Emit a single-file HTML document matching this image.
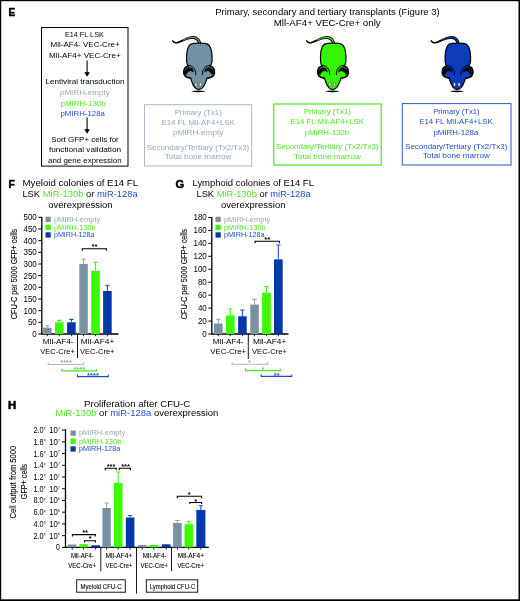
<!DOCTYPE html>
<html><head><meta charset="utf-8"><title>Figure</title>
<style>
html,body{margin:0;padding:0;background:#fff}
svg{display:block}
svg text{font-family:"Liberation Sans",sans-serif}
svg text.c{stroke:#000;stroke-width:.1px}
svg text.p{stroke:#000;stroke-width:.55px;stroke-linejoin:round}
</style></head><body>
<svg width="520" height="601" viewBox="0 0 520 601">
<rect x="0" y="0" width="520" height="601" fill="#000"/><rect x="1.2" y="1.2" width="517.3" height="598.1" fill="#fff"/>
<text x="8.5" y="16.1" font-size="11.5" textLength="6.7" lengthAdjust="spacingAndGlyphs" font-weight="bold" class="p">E</text>
<text x="8.5" y="188.2" font-size="11.5" textLength="6.3" lengthAdjust="spacingAndGlyphs" font-weight="bold" class="p">F</text>
<text x="175.6" y="188.2" font-size="11.5" textLength="8.7" lengthAdjust="spacingAndGlyphs" font-weight="bold" class="p">G</text>
<text x="8.1" y="409.2" font-size="11.5" textLength="8.25" lengthAdjust="spacingAndGlyphs" font-weight="bold" class="p">H</text>
<rect x="41.5" y="27.5" width="86.5" height="138.6" fill="none" stroke="#000" stroke-width="1"/>
<text x="64.9" y="36.5" font-size="7.1" textLength="39.0" lengthAdjust="spacingAndGlyphs">E14 FL LSK</text>
<text x="50.5" y="46.9" font-size="7.1" textLength="69.2" lengthAdjust="spacingAndGlyphs">Mll-AF4- VEC-Cre+</text>
<text x="48.900000000000006" y="57.5" font-size="7.1" textLength="71.8" lengthAdjust="spacingAndGlyphs">Mll-AF4+ VEC-Cre+</text>
<text x="45.5" y="83.8" font-size="7.1" textLength="79.0" lengthAdjust="spacingAndGlyphs">Lentiviral transduction</text>
<text x="59.900000000000006" y="94.8" font-size="7.1" textLength="49.8" lengthAdjust="spacingAndGlyphs" fill="#93a8b8">pMIRH-empty</text>
<text x="60.5" y="105.6" font-size="7.1" textLength="45.2" lengthAdjust="spacingAndGlyphs" fill="#4fe620">pMIRH-130b</text>
<text x="60.5" y="115.6" font-size="7.1" textLength="44.4" lengthAdjust="spacingAndGlyphs" fill="#1f4fc4">pMIRH-128a</text>
<text x="51.2" y="141.7" font-size="7.1" textLength="67.6" lengthAdjust="spacingAndGlyphs">Sort GFP+ cells for</text>
<text x="48.900000000000006" y="151.6" font-size="7.1" textLength="72.2" lengthAdjust="spacingAndGlyphs">functional validation</text>
<text x="48.0" y="162.5" font-size="7.1" textLength="73.6" lengthAdjust="spacingAndGlyphs">and gene expression</text>
<path d="M87.1 60.4V73.7" stroke="#000" stroke-width="1.1" fill="none"/>
<path d="M84.3 72.2L87.1 76.7L89.89999999999999 72.2Z" fill="#000"/>
<path d="M87.1 117.5V130.8" stroke="#000" stroke-width="1.1" fill="none"/>
<path d="M84.3 129.3L87.1 133.8L89.89999999999999 129.3Z" fill="#000"/>
<text x="215.2" y="14.6" font-size="8.6" textLength="224.5" lengthAdjust="spacingAndGlyphs">Primary, secondary and tertiary transplants (Figure 3)</text>
<text x="273.7" y="25.6" font-size="8.6" textLength="107.0" lengthAdjust="spacingAndGlyphs">Mll-AF4+ VEC-Cre+ only</text>
<g transform="translate(0,0)">
<path d="M171.79 40.70L171.93 40.91L172.14 41.21L172.40 41.59L172.71 41.99L173.07 42.39L173.49 42.73L173.92 42.98L174.36 43.19L174.83 43.36L175.34 43.50L175.87 43.58L176.43 43.60L177.00 43.55L177.57 43.43L178.14 43.28L178.70 43.09L179.25 42.89L179.81 42.69L180.40 42.47L180.99 42.21L181.58 41.95L182.17 41.68L182.77 41.42L183.38 41.17L184.02 40.92L184.69 40.67L185.37 40.43L186.04 40.19L186.71 39.98L187.36 39.79L188.02 39.62L188.68 39.46L189.34 39.31L189.98 39.19L190.59 39.10L191.18 39.04L191.77 39.00L192.35 38.98L192.91 38.99L193.43 39.02L193.89 39.08L194.29 39.17L194.63 39.27L194.94 39.40L195.23 39.55L195.52 39.74L195.81 39.95L196.10 40.18L196.37 40.43L196.62 40.69L196.86 40.97L197.09 41.28L197.31 41.63L197.51 41.99L197.71 42.44L197.92 43.01L198.13 43.66L198.33 44.29L198.49 44.86L198.62 45.26L201.58 44.34L201.46 43.96L201.30 43.40L201.09 42.73L200.85 42.00L200.59 41.27L200.29 40.61L199.98 40.04L199.65 39.53L199.30 39.05L198.93 38.61L198.52 38.19L198.10 37.82L197.66 37.47L197.20 37.15L196.69 36.86L196.14 36.60L195.55 36.39L194.91 36.23L194.25 36.14L193.57 36.11L192.88 36.12L192.19 36.17L191.50 36.25L190.82 36.36L190.12 36.50L189.42 36.68L188.71 36.89L188.01 37.11L187.32 37.36L186.64 37.61L185.95 37.88L185.26 38.18L184.57 38.50L183.90 38.82L183.25 39.13L182.62 39.43L182.00 39.73L181.39 40.04L180.81 40.34L180.25 40.62L179.71 40.88L179.19 41.11L178.66 41.32L178.13 41.53L177.64 41.71L177.17 41.85L176.75 41.95L176.37 42.00L176.00 42.00L175.64 41.95L175.28 41.87L174.93 41.76L174.60 41.62L174.31 41.47L174.05 41.29L173.77 41.03L173.49 40.72L173.23 40.40L172.99 40.11L172.81 39.90Z" fill="#000"/>
<path d="M183.11 40.56L183.55 40.39L184.15 40.14L184.87 39.85L185.64 39.56L186.41 39.27L187.11 39.04L187.78 38.84L188.45 38.66L189.13 38.49L189.79 38.34L190.43 38.22L191.06 38.14L191.68 38.08L192.30 38.04L192.90 38.03L193.47 38.05L194.01 38.10L194.50 38.19L194.93 38.31L195.34 38.47L195.72 38.66L196.08 38.88L196.43 39.13L196.76 39.40L197.09 39.69L197.39 40.00L197.67 40.33L197.94 40.70L198.20 41.10L198.43 41.53L198.67 42.05L198.90 42.68L199.12 43.35L199.31 44.00L199.48 44.56L199.60 44.96L200.79 44.58L200.67 44.20L200.50 43.64L200.30 42.98L200.07 42.27L199.82 41.58L199.54 40.98L199.26 40.47L198.97 40.00L198.65 39.57L198.31 39.16L197.95 38.79L197.56 38.45L197.17 38.14L196.75 37.84L196.30 37.58L195.82 37.35L195.30 37.16L194.75 37.02L194.15 36.93L193.53 36.88L192.89 36.88L192.23 36.92L191.57 36.98L190.91 37.07L190.24 37.18L189.56 37.34L188.87 37.52L188.19 37.72L187.50 37.94L186.82 38.17L186.10 38.44L185.32 38.76L184.55 39.09L183.84 39.40L183.25 39.67L182.82 39.86Z" fill="#7391a5"/>
<path d="M191 91.2Q198.6 89.7 205.8 91.2Q198.6 93.1 191 91.2Z" fill="#000"/>
<path d="M199.1 43.2C203 43.2 206 43.3 208 44.4C210 45.7 211.2 48.5 211.7 52.5C212 55 212.2 59 212 62C211.7 64 210.4 66 209.3 68C208.2 71 207.6 75 207.2 77.7C206.6 80 206 81.5 205.4 82.8C204.5 85 203.6 86.5 202.6 87.6C201.4 88.8 200 89.3 198.7 89.3C197.4 89.3 196 88.8 194.9 87.6C193.9 86.5 193 85 192.2 82.8C191.6 81.5 191 80 190.6 77.7C190.2 75 189.8 71 188.9 68C187.9 66 186.9 64 186.7 62C186.5 59 186.6 55 186.9 52.5C187.4 48.5 188.6 45.7 190.4 44.4C192.4 43.3 195.2 43.2 199.1 43.2Z" fill="#7391a5" stroke="#000" stroke-width="1.2" stroke-linejoin="round"/>
<path d="M188.6 66.2C185.8 66.6 184 69 183.9 72C183.9 75.6 186.5 77.9 190.4 78.1C193 77.6 194.4 75.4 194.4 72.6C194.3 69 192 66.4 188.6 66.2Z" fill="#7391a5"/>
<path d="M188.4 66C186 66.6 184.3 68.3 183.9 70.6C183.4 73.6 184.6 76.1 187 77.3C188.3 77.8 189.5 77.9 190.4 78.1" fill="none" stroke="#000" stroke-width="1.6" stroke-linecap="round"/>
<path d="M184.2 73.6C184.3 69.6 186.8 67.4 189.7 67.4C192.5 67.5 193.8 69.6 193.4 72.3C192.6 71.3 191.5 70.9 190.3 71C188.4 71.2 187.2 72.5 186.5 74.6Z" fill="#000" stroke="#000" stroke-width="0.3"/>
<path d="M188.3 65.3C191 65.2 193.3 67 194.6 69.3C195.5 71 196 73 195.7 74.7" fill="none" stroke="#000" stroke-width="1" stroke-linecap="round"/>
<path d="M 209.6 66.2 C 212.4 66.6 214.2 69.0 214.3 72.0 C 214.3 75.6 211.7 77.9 207.8 78.1 C 205.2 77.6 203.8 75.4 203.8 72.6 C 203.9 69.0 206.2 66.4 209.6 66.2 Z" fill="#7391a5"/>
<path d="M 209.8 66.0 C 212.2 66.6 213.9 68.3 214.3 70.6 C 214.8 73.6 213.6 76.1 211.2 77.3 C 209.9 77.8 208.7 77.9 207.8 78.1" fill="none" stroke="#000" stroke-width="1.6" stroke-linecap="round"/>
<path d="M 214.0 73.6 C 213.9 69.6 211.4 67.4 208.5 67.4 C 205.7 67.5 204.4 69.6 204.8 72.3 C 205.6 71.3 206.7 70.9 207.9 71.0 C 209.8 71.2 211.0 72.5 211.7 74.6 Z" fill="#000" stroke="#000" stroke-width="0.3"/>
<path d="M 209.9 65.3 C 207.2 65.2 204.9 67.0 203.6 69.3 C 202.7 71.0 202.2 73.0 202.5 74.7" fill="none" stroke="#000" stroke-width="1" stroke-linecap="round"/>
<ellipse cx="196" cy="84.4" rx="1.2" ry="1.9" fill="#e2e6e8" stroke="#111" stroke-width="0.4"/>
<ellipse cx="200.5" cy="84.4" rx="1.2" ry="1.9" fill="#e2e6e8" stroke="#111" stroke-width="0.4"/>
</g>
<g transform="translate(133.9,0)">
<path d="M171.79 40.70L171.93 40.91L172.14 41.21L172.40 41.59L172.71 41.99L173.07 42.39L173.49 42.73L173.92 42.98L174.36 43.19L174.83 43.36L175.34 43.50L175.87 43.58L176.43 43.60L177.00 43.55L177.57 43.43L178.14 43.28L178.70 43.09L179.25 42.89L179.81 42.69L180.40 42.47L180.99 42.21L181.58 41.95L182.17 41.68L182.77 41.42L183.38 41.17L184.02 40.92L184.69 40.67L185.37 40.43L186.04 40.19L186.71 39.98L187.36 39.79L188.02 39.62L188.68 39.46L189.34 39.31L189.98 39.19L190.59 39.10L191.18 39.04L191.77 39.00L192.35 38.98L192.91 38.99L193.43 39.02L193.89 39.08L194.29 39.17L194.63 39.27L194.94 39.40L195.23 39.55L195.52 39.74L195.81 39.95L196.10 40.18L196.37 40.43L196.62 40.69L196.86 40.97L197.09 41.28L197.31 41.63L197.51 41.99L197.71 42.44L197.92 43.01L198.13 43.66L198.33 44.29L198.49 44.86L198.62 45.26L201.58 44.34L201.46 43.96L201.30 43.40L201.09 42.73L200.85 42.00L200.59 41.27L200.29 40.61L199.98 40.04L199.65 39.53L199.30 39.05L198.93 38.61L198.52 38.19L198.10 37.82L197.66 37.47L197.20 37.15L196.69 36.86L196.14 36.60L195.55 36.39L194.91 36.23L194.25 36.14L193.57 36.11L192.88 36.12L192.19 36.17L191.50 36.25L190.82 36.36L190.12 36.50L189.42 36.68L188.71 36.89L188.01 37.11L187.32 37.36L186.64 37.61L185.95 37.88L185.26 38.18L184.57 38.50L183.90 38.82L183.25 39.13L182.62 39.43L182.00 39.73L181.39 40.04L180.81 40.34L180.25 40.62L179.71 40.88L179.19 41.11L178.66 41.32L178.13 41.53L177.64 41.71L177.17 41.85L176.75 41.95L176.37 42.00L176.00 42.00L175.64 41.95L175.28 41.87L174.93 41.76L174.60 41.62L174.31 41.47L174.05 41.29L173.77 41.03L173.49 40.72L173.23 40.40L172.99 40.11L172.81 39.90Z" fill="#000"/>
<path d="M183.11 40.56L183.55 40.39L184.15 40.14L184.87 39.85L185.64 39.56L186.41 39.27L187.11 39.04L187.78 38.84L188.45 38.66L189.13 38.49L189.79 38.34L190.43 38.22L191.06 38.14L191.68 38.08L192.30 38.04L192.90 38.03L193.47 38.05L194.01 38.10L194.50 38.19L194.93 38.31L195.34 38.47L195.72 38.66L196.08 38.88L196.43 39.13L196.76 39.40L197.09 39.69L197.39 40.00L197.67 40.33L197.94 40.70L198.20 41.10L198.43 41.53L198.67 42.05L198.90 42.68L199.12 43.35L199.31 44.00L199.48 44.56L199.60 44.96L200.79 44.58L200.67 44.20L200.50 43.64L200.30 42.98L200.07 42.27L199.82 41.58L199.54 40.98L199.26 40.47L198.97 40.00L198.65 39.57L198.31 39.16L197.95 38.79L197.56 38.45L197.17 38.14L196.75 37.84L196.30 37.58L195.82 37.35L195.30 37.16L194.75 37.02L194.15 36.93L193.53 36.88L192.89 36.88L192.23 36.92L191.57 36.98L190.91 37.07L190.24 37.18L189.56 37.34L188.87 37.52L188.19 37.72L187.50 37.94L186.82 38.17L186.10 38.44L185.32 38.76L184.55 39.09L183.84 39.40L183.25 39.67L182.82 39.86Z" fill="#33f500"/>
<path d="M191 91.2Q198.6 89.7 205.8 91.2Q198.6 93.1 191 91.2Z" fill="#000"/>
<path d="M199.1 43.2C203 43.2 206 43.3 208 44.4C210 45.7 211.2 48.5 211.7 52.5C212 55 212.2 59 212 62C211.7 64 210.4 66 209.3 68C208.2 71 207.6 75 207.2 77.7C206.6 80 206 81.5 205.4 82.8C204.5 85 203.6 86.5 202.6 87.6C201.4 88.8 200 89.3 198.7 89.3C197.4 89.3 196 88.8 194.9 87.6C193.9 86.5 193 85 192.2 82.8C191.6 81.5 191 80 190.6 77.7C190.2 75 189.8 71 188.9 68C187.9 66 186.9 64 186.7 62C186.5 59 186.6 55 186.9 52.5C187.4 48.5 188.6 45.7 190.4 44.4C192.4 43.3 195.2 43.2 199.1 43.2Z" fill="#33f500" stroke="#000" stroke-width="1.2" stroke-linejoin="round"/>
<path d="M188.6 66.2C185.8 66.6 184 69 183.9 72C183.9 75.6 186.5 77.9 190.4 78.1C193 77.6 194.4 75.4 194.4 72.6C194.3 69 192 66.4 188.6 66.2Z" fill="#33f500"/>
<path d="M188.4 66C186 66.6 184.3 68.3 183.9 70.6C183.4 73.6 184.6 76.1 187 77.3C188.3 77.8 189.5 77.9 190.4 78.1" fill="none" stroke="#000" stroke-width="1.6" stroke-linecap="round"/>
<path d="M184.2 73.6C184.3 69.6 186.8 67.4 189.7 67.4C192.5 67.5 193.8 69.6 193.4 72.3C192.6 71.3 191.5 70.9 190.3 71C188.4 71.2 187.2 72.5 186.5 74.6Z" fill="#000" stroke="#000" stroke-width="0.3"/>
<path d="M188.3 65.3C191 65.2 193.3 67 194.6 69.3C195.5 71 196 73 195.7 74.7" fill="none" stroke="#000" stroke-width="1" stroke-linecap="round"/>
<path d="M 209.6 66.2 C 212.4 66.6 214.2 69.0 214.3 72.0 C 214.3 75.6 211.7 77.9 207.8 78.1 C 205.2 77.6 203.8 75.4 203.8 72.6 C 203.9 69.0 206.2 66.4 209.6 66.2 Z" fill="#33f500"/>
<path d="M 209.8 66.0 C 212.2 66.6 213.9 68.3 214.3 70.6 C 214.8 73.6 213.6 76.1 211.2 77.3 C 209.9 77.8 208.7 77.9 207.8 78.1" fill="none" stroke="#000" stroke-width="1.6" stroke-linecap="round"/>
<path d="M 214.0 73.6 C 213.9 69.6 211.4 67.4 208.5 67.4 C 205.7 67.5 204.4 69.6 204.8 72.3 C 205.6 71.3 206.7 70.9 207.9 71.0 C 209.8 71.2 211.0 72.5 211.7 74.6 Z" fill="#000" stroke="#000" stroke-width="0.3"/>
<path d="M 209.9 65.3 C 207.2 65.2 204.9 67.0 203.6 69.3 C 202.7 71.0 202.2 73.0 202.5 74.7" fill="none" stroke="#000" stroke-width="1" stroke-linecap="round"/>
<ellipse cx="196" cy="84.4" rx="1.2" ry="1.9" fill="#e2e6e8" stroke="#111" stroke-width="0.4"/>
<ellipse cx="200.5" cy="84.4" rx="1.2" ry="1.9" fill="#e2e6e8" stroke="#111" stroke-width="0.4"/>
</g>
<g transform="translate(258.5,0)">
<path d="M171.79 40.70L171.93 40.91L172.14 41.21L172.40 41.59L172.71 41.99L173.07 42.39L173.49 42.73L173.92 42.98L174.36 43.19L174.83 43.36L175.34 43.50L175.87 43.58L176.43 43.60L177.00 43.55L177.57 43.43L178.14 43.28L178.70 43.09L179.25 42.89L179.81 42.69L180.40 42.47L180.99 42.21L181.58 41.95L182.17 41.68L182.77 41.42L183.38 41.17L184.02 40.92L184.69 40.67L185.37 40.43L186.04 40.19L186.71 39.98L187.36 39.79L188.02 39.62L188.68 39.46L189.34 39.31L189.98 39.19L190.59 39.10L191.18 39.04L191.77 39.00L192.35 38.98L192.91 38.99L193.43 39.02L193.89 39.08L194.29 39.17L194.63 39.27L194.94 39.40L195.23 39.55L195.52 39.74L195.81 39.95L196.10 40.18L196.37 40.43L196.62 40.69L196.86 40.97L197.09 41.28L197.31 41.63L197.51 41.99L197.71 42.44L197.92 43.01L198.13 43.66L198.33 44.29L198.49 44.86L198.62 45.26L201.58 44.34L201.46 43.96L201.30 43.40L201.09 42.73L200.85 42.00L200.59 41.27L200.29 40.61L199.98 40.04L199.65 39.53L199.30 39.05L198.93 38.61L198.52 38.19L198.10 37.82L197.66 37.47L197.20 37.15L196.69 36.86L196.14 36.60L195.55 36.39L194.91 36.23L194.25 36.14L193.57 36.11L192.88 36.12L192.19 36.17L191.50 36.25L190.82 36.36L190.12 36.50L189.42 36.68L188.71 36.89L188.01 37.11L187.32 37.36L186.64 37.61L185.95 37.88L185.26 38.18L184.57 38.50L183.90 38.82L183.25 39.13L182.62 39.43L182.00 39.73L181.39 40.04L180.81 40.34L180.25 40.62L179.71 40.88L179.19 41.11L178.66 41.32L178.13 41.53L177.64 41.71L177.17 41.85L176.75 41.95L176.37 42.00L176.00 42.00L175.64 41.95L175.28 41.87L174.93 41.76L174.60 41.62L174.31 41.47L174.05 41.29L173.77 41.03L173.49 40.72L173.23 40.40L172.99 40.11L172.81 39.90Z" fill="#000"/>
<path d="M183.11 40.56L183.55 40.39L184.15 40.14L184.87 39.85L185.64 39.56L186.41 39.27L187.11 39.04L187.78 38.84L188.45 38.66L189.13 38.49L189.79 38.34L190.43 38.22L191.06 38.14L191.68 38.08L192.30 38.04L192.90 38.03L193.47 38.05L194.01 38.10L194.50 38.19L194.93 38.31L195.34 38.47L195.72 38.66L196.08 38.88L196.43 39.13L196.76 39.40L197.09 39.69L197.39 40.00L197.67 40.33L197.94 40.70L198.20 41.10L198.43 41.53L198.67 42.05L198.90 42.68L199.12 43.35L199.31 44.00L199.48 44.56L199.60 44.96L200.79 44.58L200.67 44.20L200.50 43.64L200.30 42.98L200.07 42.27L199.82 41.58L199.54 40.98L199.26 40.47L198.97 40.00L198.65 39.57L198.31 39.16L197.95 38.79L197.56 38.45L197.17 38.14L196.75 37.84L196.30 37.58L195.82 37.35L195.30 37.16L194.75 37.02L194.15 36.93L193.53 36.88L192.89 36.88L192.23 36.92L191.57 36.98L190.91 37.07L190.24 37.18L189.56 37.34L188.87 37.52L188.19 37.72L187.50 37.94L186.82 38.17L186.10 38.44L185.32 38.76L184.55 39.09L183.84 39.40L183.25 39.67L182.82 39.86Z" fill="#0c3cbc"/>
<path d="M191 91.2Q198.6 89.7 205.8 91.2Q198.6 93.1 191 91.2Z" fill="#000"/>
<path d="M199.1 43.2C203 43.2 206 43.3 208 44.4C210 45.7 211.2 48.5 211.7 52.5C212 55 212.2 59 212 62C211.7 64 210.4 66 209.3 68C208.2 71 207.6 75 207.2 77.7C206.6 80 206 81.5 205.4 82.8C204.5 85 203.6 86.5 202.6 87.6C201.4 88.8 200 89.3 198.7 89.3C197.4 89.3 196 88.8 194.9 87.6C193.9 86.5 193 85 192.2 82.8C191.6 81.5 191 80 190.6 77.7C190.2 75 189.8 71 188.9 68C187.9 66 186.9 64 186.7 62C186.5 59 186.6 55 186.9 52.5C187.4 48.5 188.6 45.7 190.4 44.4C192.4 43.3 195.2 43.2 199.1 43.2Z" fill="#0c3cbc" stroke="#000" stroke-width="1.2" stroke-linejoin="round"/>
<path d="M188.6 66.2C185.8 66.6 184 69 183.9 72C183.9 75.6 186.5 77.9 190.4 78.1C193 77.6 194.4 75.4 194.4 72.6C194.3 69 192 66.4 188.6 66.2Z" fill="#0c3cbc"/>
<path d="M188.4 66C186 66.6 184.3 68.3 183.9 70.6C183.4 73.6 184.6 76.1 187 77.3C188.3 77.8 189.5 77.9 190.4 78.1" fill="none" stroke="#000" stroke-width="1.6" stroke-linecap="round"/>
<path d="M184.2 73.6C184.3 69.6 186.8 67.4 189.7 67.4C192.5 67.5 193.8 69.6 193.4 72.3C192.6 71.3 191.5 70.9 190.3 71C188.4 71.2 187.2 72.5 186.5 74.6Z" fill="#000" stroke="#000" stroke-width="0.3"/>
<path d="M188.3 65.3C191 65.2 193.3 67 194.6 69.3C195.5 71 196 73 195.7 74.7" fill="none" stroke="#000" stroke-width="1" stroke-linecap="round"/>
<path d="M 209.6 66.2 C 212.4 66.6 214.2 69.0 214.3 72.0 C 214.3 75.6 211.7 77.9 207.8 78.1 C 205.2 77.6 203.8 75.4 203.8 72.6 C 203.9 69.0 206.2 66.4 209.6 66.2 Z" fill="#0c3cbc"/>
<path d="M 209.8 66.0 C 212.2 66.6 213.9 68.3 214.3 70.6 C 214.8 73.6 213.6 76.1 211.2 77.3 C 209.9 77.8 208.7 77.9 207.8 78.1" fill="none" stroke="#000" stroke-width="1.6" stroke-linecap="round"/>
<path d="M 214.0 73.6 C 213.9 69.6 211.4 67.4 208.5 67.4 C 205.7 67.5 204.4 69.6 204.8 72.3 C 205.6 71.3 206.7 70.9 207.9 71.0 C 209.8 71.2 211.0 72.5 211.7 74.6 Z" fill="#000" stroke="#000" stroke-width="0.3"/>
<path d="M 209.9 65.3 C 207.2 65.2 204.9 67.0 203.6 69.3 C 202.7 71.0 202.2 73.0 202.5 74.7" fill="none" stroke="#000" stroke-width="1" stroke-linecap="round"/>
<ellipse cx="196" cy="84.4" rx="1.2" ry="1.9" fill="#e2e6e8" stroke="#111" stroke-width="0.4"/>
<ellipse cx="200.5" cy="84.4" rx="1.2" ry="1.9" fill="#e2e6e8" stroke="#111" stroke-width="0.4"/>
</g>
<rect x="144.5" y="104.7" width="107.19999999999999" height="61.3" fill="none" stroke="#a9bac6" stroke-width="1"/>
<text x="174.7" y="114.6" font-size="7.4" textLength="47.1" lengthAdjust="spacingAndGlyphs" fill="#93a8b8">Primary (Tx1)</text>
<text x="161.45" y="124.5" font-size="7.4" textLength="73.35" lengthAdjust="spacingAndGlyphs" fill="#93a8b8">E14 FL Mll-AF4+LSK</text>
<text x="172.95" y="135" font-size="7.4" textLength="50.35" lengthAdjust="spacingAndGlyphs" fill="#93a8b8">pMIRH-empty</text>
<text x="146.7" y="149.9" font-size="7.4" textLength="102.6" lengthAdjust="spacingAndGlyphs" fill="#93a8b8">Secondary/Tertiary (Tx2/Tx3)</text>
<text x="164.7" y="159.3" font-size="7.4" textLength="66.6" lengthAdjust="spacingAndGlyphs" fill="#93a8b8">Total bone marrow</text>
<rect x="273.8" y="104" width="107.39999999999998" height="61" fill="none" stroke="#4ae81c" stroke-width="1.2"/>
<text x="303.95" y="113.75" font-size="7.4" textLength="46.85" lengthAdjust="spacingAndGlyphs" fill="#4fe620">Primary (Tx1)</text>
<text x="290.45" y="124" font-size="7.4" textLength="73.6" lengthAdjust="spacingAndGlyphs" fill="#4fe620">E14 FL Mll-AF4+LSK</text>
<text x="304.7" y="134.8" font-size="7.4" textLength="44.35" lengthAdjust="spacingAndGlyphs" fill="#4fe620">pMIRH-130b</text>
<text x="275.95" y="148.75" font-size="7.4" textLength="102.6" lengthAdjust="spacingAndGlyphs" fill="#4fe620">Secondary/Tertiary (Tx2/Tx3)</text>
<text x="293.95" y="158.75" font-size="7.4" textLength="66.85" lengthAdjust="spacingAndGlyphs" fill="#4fe620">Total bone marrow</text>
<rect x="402.3" y="103.6" width="108.69999999999999" height="61.400000000000006" fill="none" stroke="#2a55c8" stroke-width="1"/>
<text x="433.2" y="113.5" font-size="7.4" textLength="46.35" lengthAdjust="spacingAndGlyphs" fill="#1f4fc4">Primary (Tx1)</text>
<text x="419.2" y="123.75" font-size="7.4" textLength="73.6" lengthAdjust="spacingAndGlyphs" fill="#1f4fc4">E14 FL Mll-AF4+LSK</text>
<text x="433.45" y="134.5" font-size="7.4" textLength="44.85" lengthAdjust="spacingAndGlyphs" fill="#1f4fc4">pMIRH-128a</text>
<text x="405.2" y="148.5" font-size="7.4" textLength="102.1" lengthAdjust="spacingAndGlyphs" fill="#1f4fc4">Secondary/Tertiary (Tx2/Tx3)</text>
<text x="422.95" y="158.25" font-size="7.4" textLength="66.85" lengthAdjust="spacingAndGlyphs" fill="#1f4fc4">Total bone marrow</text>
<text x="22.599999999999998" y="186.4" font-size="8.9" textLength="115.5" lengthAdjust="spacingAndGlyphs">Myeloid colonies of E14 FL</text>
<text x="22.4" y="196.6" font-size="8.9" textLength="115.3" lengthAdjust="spacingAndGlyphs">LSK <tspan fill="#4fe620">MiR-130b</tspan> or <tspan fill="#1f4fc4">miR-128a</tspan></text>
<text x="48.2" y="207.5" font-size="8.9" textLength="64.4" lengthAdjust="spacingAndGlyphs">overexpression</text>
<text x="192.5" y="186.4" font-size="8.9" textLength="121.4" lengthAdjust="spacingAndGlyphs">Lymphoid colonies of E14 FL</text>
<text x="196.5" y="196.6" font-size="8.9" textLength="114.1" lengthAdjust="spacingAndGlyphs">LSK <tspan fill="#4fe620">MiR-130b</tspan> or <tspan fill="#1f4fc4">miR-128a</tspan></text>
<text x="221.0" y="207.5" font-size="8.9" textLength="64.5" lengthAdjust="spacingAndGlyphs">overexpression</text>
<text x="84.0" y="407.2" font-size="8.9" textLength="106.3" lengthAdjust="spacingAndGlyphs">Proliferation after CFU-C</text>
<text x="55.300000000000004" y="416" font-size="8.9" textLength="163.1" lengthAdjust="spacingAndGlyphs"><tspan fill="#4fe620">MiR-130b</tspan> or <tspan fill="#1f4fc4">miR-128a</tspan> overexpression</text>
<path d="M41.8 217.0V334H118.5" fill="none" stroke="#000" stroke-width="1.3"/>
<path d="M38.3 334.0H41.8" stroke="#000" stroke-width="1"/>
<path d="M38.3 322.33H41.8" stroke="#000" stroke-width="1"/>
<path d="M38.3 310.66H41.8" stroke="#000" stroke-width="1"/>
<path d="M38.3 298.99H41.8" stroke="#000" stroke-width="1"/>
<path d="M38.3 287.32H41.8" stroke="#000" stroke-width="1"/>
<path d="M38.3 275.65H41.8" stroke="#000" stroke-width="1"/>
<path d="M38.3 263.98H41.8" stroke="#000" stroke-width="1"/>
<path d="M38.3 252.31H41.8" stroke="#000" stroke-width="1"/>
<path d="M38.3 240.64H41.8" stroke="#000" stroke-width="1"/>
<path d="M38.3 228.97H41.8" stroke="#000" stroke-width="1"/>
<path d="M38.3 217.3H41.8" stroke="#000" stroke-width="1"/>
<path d="M47.35 327.7V325.8M45.15 325.8H49.55" stroke="#93a8b6" stroke-width="1.1" fill="none"/>
<rect x="43.1" y="327.7" width="8.5" height="6.3" fill="#7a91a1"/>
<path d="M47.35 334V336.2" stroke="#000" stroke-width="0.9"/>
<path d="M59.3 322.3V320.4M57.1 320.4H61.5" stroke="#4cf21a" stroke-width="1.1" fill="none"/>
<rect x="55" y="322.3" width="8.6" height="11.7" fill="#3cfa00"/>
<path d="M59.3 334V336.2" stroke="#000" stroke-width="0.9"/>
<path d="M71.4 322.3V319.4M69.2 319.4H73.6" stroke="#2450c0" stroke-width="1.1" fill="none"/>
<rect x="67.1" y="322.3" width="8.6" height="11.7" fill="#0436ac"/>
<path d="M71.4 334V336.2" stroke="#000" stroke-width="0.9"/>
<path d="M83.55 264V259.2M81.35 259.2H85.75" stroke="#93a8b6" stroke-width="1.1" fill="none"/>
<rect x="79.3" y="264" width="8.5" height="70" fill="#7a91a1"/>
<path d="M83.55 334V336.2" stroke="#000" stroke-width="0.9"/>
<path d="M95.5 270.8V262.3M93.3 262.3H97.7" stroke="#4cf21a" stroke-width="1.1" fill="none"/>
<rect x="91.2" y="270.8" width="8.6" height="63.2" fill="#3cfa00"/>
<path d="M95.5 334V336.2" stroke="#000" stroke-width="0.9"/>
<path d="M107.4 291V285.2M105.2 285.2H109.6" stroke="#2450c0" stroke-width="1.1" fill="none"/>
<rect x="103.1" y="291" width="8.6" height="43" fill="#0436ac"/>
<path d="M107.4 334V336.2" stroke="#000" stroke-width="0.9"/>
<text x="36.8" y="336.9" font-size="8.2" text-anchor="end" textLength="4.45" lengthAdjust="spacingAndGlyphs">0</text>
<text x="36.8" y="325.23" font-size="8.2" text-anchor="end" textLength="8.9" lengthAdjust="spacingAndGlyphs">50</text>
<text x="36.8" y="313.56" font-size="8.2" text-anchor="end" textLength="13.350000000000001" lengthAdjust="spacingAndGlyphs">100</text>
<text x="36.8" y="301.89" font-size="8.2" text-anchor="end" textLength="13.350000000000001" lengthAdjust="spacingAndGlyphs">150</text>
<text x="36.8" y="290.22" font-size="8.2" text-anchor="end" textLength="13.350000000000001" lengthAdjust="spacingAndGlyphs">200</text>
<text x="36.8" y="278.55" font-size="8.2" text-anchor="end" textLength="13.350000000000001" lengthAdjust="spacingAndGlyphs">250</text>
<text x="36.8" y="266.88" font-size="8.2" text-anchor="end" textLength="13.350000000000001" lengthAdjust="spacingAndGlyphs">300</text>
<text x="36.8" y="255.21" font-size="8.2" text-anchor="end" textLength="13.350000000000001" lengthAdjust="spacingAndGlyphs">350</text>
<text x="36.8" y="243.54" font-size="8.2" text-anchor="end" textLength="13.350000000000001" lengthAdjust="spacingAndGlyphs">400</text>
<text x="36.8" y="231.87" font-size="8.2" text-anchor="end" textLength="13.350000000000001" lengthAdjust="spacingAndGlyphs">450</text>
<text x="36.8" y="220.2" font-size="8.2" text-anchor="end" textLength="13.350000000000001" lengthAdjust="spacingAndGlyphs">500</text>
<text class="c" transform="translate(16.9,274) rotate(-90)" font-size="8.5" text-anchor="middle" textLength="90.3" lengthAdjust="spacingAndGlyphs">CFU-C per 5000 GFP+ cells</text>
<rect x="45.5" y="216.7" width="5.25" height="5.3" fill="#7a91a1"/>
<text x="53.900000000000006" y="221.6" font-size="6.6" textLength="46.4" lengthAdjust="spacingAndGlyphs" fill="#93a8b8">pMIRH-empty</text>
<rect x="45.5" y="224.7" width="5.25" height="5.3" fill="#3cfa00"/>
<text x="53.900000000000006" y="229.6" font-size="6.6" textLength="41.8" lengthAdjust="spacingAndGlyphs" fill="#4fe620">pMIRH-130b</text>
<rect x="45.5" y="232.3" width="5.25" height="5.3" fill="#0436ac"/>
<text x="53.900000000000006" y="237.2" font-size="6.6" textLength="40.7" lengthAdjust="spacingAndGlyphs" fill="#1f4fc4">pMIRH-128a</text>
<path d="M77.5 334V358" stroke="#000" stroke-width="0.9"/>
<text x="42.800000000000004" y="344.2" font-size="7.3" textLength="30.8" lengthAdjust="spacingAndGlyphs">Mll-AF4-</text>
<text x="40.300000000000004" y="353.7" font-size="7.3" textLength="34.6" lengthAdjust="spacingAndGlyphs">VEC-Cre+</text>
<text x="80.7" y="344.2" font-size="7.3" textLength="33.6" lengthAdjust="spacingAndGlyphs">Mll-AF4+</text>
<text x="80.10000000000001" y="353.7" font-size="7.3" textLength="34.4" lengthAdjust="spacingAndGlyphs">VEC-Cre+</text>
<path d="M82.3 250.8V248.8H106.4V250.8" fill="none" stroke="#000" stroke-width="1.1"/>
<text x="94.4" y="248.82" font-size="7.6" text-anchor="middle" font-weight="bold">**</text>
<path d="M48.3 362.5V364.5H83.8V362.5" fill="none" stroke="#a9bac6" stroke-width="1.1"/>
<text x="66.1" y="364.82" font-size="7.6" text-anchor="middle" font-weight="bold" fill="#93a8b8">****</text>
<path d="M61.7 368.9V370.9H96.7V368.9" fill="none" stroke="#4fe620" stroke-width="1.1"/>
<text x="79.3" y="371.92" font-size="7.6" text-anchor="middle" font-weight="bold" fill="#4fe620">****</text>
<path d="M77.5 374.6V376.6H108.3V374.6" fill="none" stroke="#1f4fc4" stroke-width="1.1"/>
<text x="93" y="378.02" font-size="7.6" text-anchor="middle" font-weight="bold" fill="#1f4fc4">****</text>
<path d="M211.8 217.0V334H288.5" fill="none" stroke="#000" stroke-width="1.3"/>
<path d="M208.3 334.0H211.8" stroke="#000" stroke-width="1"/>
<path d="M208.3 321.05H211.8" stroke="#000" stroke-width="1"/>
<path d="M208.3 308.1H211.8" stroke="#000" stroke-width="1"/>
<path d="M208.3 295.15H211.8" stroke="#000" stroke-width="1"/>
<path d="M208.3 282.2H211.8" stroke="#000" stroke-width="1"/>
<path d="M208.3 269.25H211.8" stroke="#000" stroke-width="1"/>
<path d="M208.3 256.3H211.8" stroke="#000" stroke-width="1"/>
<path d="M208.3 243.35H211.8" stroke="#000" stroke-width="1"/>
<path d="M208.3 230.4H211.8" stroke="#000" stroke-width="1"/>
<path d="M208.3 217.45H211.8" stroke="#000" stroke-width="1"/>
<path d="M218.3 323.5V319.2M216.1 319.2H220.5" stroke="#93a8b6" stroke-width="1.1" fill="none"/>
<rect x="214" y="323.5" width="8.6" height="10.5" fill="#7a91a1"/>
<path d="M218.3 334V336.2" stroke="#000" stroke-width="0.9"/>
<path d="M230.3 315.4V309M228.1 309H232.5" stroke="#4cf21a" stroke-width="1.1" fill="none"/>
<rect x="226" y="315.4" width="8.6" height="18.6" fill="#3cfa00"/>
<path d="M230.3 334V336.2" stroke="#000" stroke-width="0.9"/>
<path d="M242.39999999999998 316.3V310M240.2 310H244.6" stroke="#2450c0" stroke-width="1.1" fill="none"/>
<rect x="238.1" y="316.3" width="8.6" height="17.7" fill="#0436ac"/>
<path d="M242.39999999999998 334V336.2" stroke="#000" stroke-width="0.9"/>
<path d="M254.55 304.6V299.4M252.35 299.4H256.75" stroke="#93a8b6" stroke-width="1.1" fill="none"/>
<rect x="250.3" y="304.6" width="8.5" height="29.4" fill="#7a91a1"/>
<path d="M254.55 334V336.2" stroke="#000" stroke-width="0.9"/>
<path d="M266.45000000000005 292.7V286.5M264.25 286.5H268.65" stroke="#4cf21a" stroke-width="1.1" fill="none"/>
<rect x="262.1" y="292.7" width="8.7" height="41.3" fill="#3cfa00"/>
<path d="M266.45000000000005 334V336.2" stroke="#000" stroke-width="0.9"/>
<path d="M278.35 259.4V245M276.15 245H280.55" stroke="#2450c0" stroke-width="1.1" fill="none"/>
<rect x="274" y="259.4" width="8.7" height="74.6" fill="#0436ac"/>
<path d="M278.35 334V336.2" stroke="#000" stroke-width="0.9"/>
<text x="206.8" y="336.9" font-size="8.2" text-anchor="end" textLength="4.45" lengthAdjust="spacingAndGlyphs">0</text>
<text x="206.8" y="323.95" font-size="8.2" text-anchor="end" textLength="8.9" lengthAdjust="spacingAndGlyphs">20</text>
<text x="206.8" y="311.0" font-size="8.2" text-anchor="end" textLength="8.9" lengthAdjust="spacingAndGlyphs">40</text>
<text x="206.8" y="298.05" font-size="8.2" text-anchor="end" textLength="8.9" lengthAdjust="spacingAndGlyphs">60</text>
<text x="206.8" y="285.1" font-size="8.2" text-anchor="end" textLength="8.9" lengthAdjust="spacingAndGlyphs">80</text>
<text x="206.8" y="272.15" font-size="8.2" text-anchor="end" textLength="13.350000000000001" lengthAdjust="spacingAndGlyphs">100</text>
<text x="206.8" y="259.2" font-size="8.2" text-anchor="end" textLength="13.350000000000001" lengthAdjust="spacingAndGlyphs">120</text>
<text x="206.8" y="246.25" font-size="8.2" text-anchor="end" textLength="13.350000000000001" lengthAdjust="spacingAndGlyphs">140</text>
<text x="206.8" y="233.3" font-size="8.2" text-anchor="end" textLength="13.350000000000001" lengthAdjust="spacingAndGlyphs">160</text>
<text x="206.8" y="220.35" font-size="8.2" text-anchor="end" textLength="13.350000000000001" lengthAdjust="spacingAndGlyphs">180</text>
<text class="c" transform="translate(186.9,274) rotate(-90)" font-size="8.5" text-anchor="middle" textLength="90.3" lengthAdjust="spacingAndGlyphs">CFU-C per 5000 GFP+ cells</text>
<rect x="215.5" y="216.7" width="5.25" height="5.3" fill="#7a91a1"/>
<text x="223.89999999999998" y="221.6" font-size="6.6" textLength="46.4" lengthAdjust="spacingAndGlyphs" fill="#93a8b8">pMIRH-empty</text>
<rect x="215.5" y="224.7" width="5.25" height="5.3" fill="#3cfa00"/>
<text x="223.89999999999998" y="229.6" font-size="6.6" textLength="41.8" lengthAdjust="spacingAndGlyphs" fill="#4fe620">pMIRH-130b</text>
<rect x="215.5" y="232.3" width="5.25" height="5.3" fill="#0436ac"/>
<text x="223.89999999999998" y="237.2" font-size="6.6" textLength="40.7" lengthAdjust="spacingAndGlyphs" fill="#1f4fc4">pMIRH-128a</text>
<path d="M248.3 334V359" stroke="#000" stroke-width="0.9"/>
<text x="212.79999999999998" y="344.2" font-size="7.3" textLength="30.8" lengthAdjust="spacingAndGlyphs">Mll-AF4-</text>
<text x="210.29999999999998" y="353.7" font-size="7.3" textLength="35.8" lengthAdjust="spacingAndGlyphs">VEC-Cre+</text>
<text x="253.0" y="344.2" font-size="7.3" textLength="33.3" lengthAdjust="spacingAndGlyphs">Mll-AF4+</text>
<text x="252.0" y="353.7" font-size="7.3" textLength="34.8" lengthAdjust="spacingAndGlyphs">VEC-Cre+</text>
<path d="M255 243.3V241.3H279.4V243.3" fill="none" stroke="#000" stroke-width="1.1"/>
<text x="267.2" y="242.42" font-size="7.6" text-anchor="middle" font-weight="bold">**</text>
<path d="M232.1 362.2V364.2H267.7V362.2" fill="none" stroke="#a9bac6" stroke-width="1.1"/>
<text x="249.6" y="364.82" font-size="7.6" text-anchor="middle" font-weight="bold" fill="#93a8b8">*</text>
<path d="M245.6 368.6V370.6H280.4V368.6" fill="none" stroke="#4fe620" stroke-width="1.1"/>
<text x="262.9" y="371.92" font-size="7.6" text-anchor="middle" font-weight="bold" fill="#4fe620">*</text>
<path d="M261.2 374.4V376.4H291.7V374.4" fill="none" stroke="#1f4fc4" stroke-width="1.1"/>
<text x="276.7" y="378.02" font-size="7.6" text-anchor="middle" font-weight="bold" fill="#1f4fc4">**</text>
<path d="M65.5 429.0V547.4H208.8" fill="none" stroke="#000" stroke-width="1.3"/>
<path d="M62.0 547.4H65.5" stroke="#000" stroke-width="1"/>
<path d="M62.0 535.67H65.5" stroke="#000" stroke-width="1"/>
<path d="M62.0 523.94H65.5" stroke="#000" stroke-width="1"/>
<path d="M62.0 512.21H65.5" stroke="#000" stroke-width="1"/>
<path d="M62.0 500.48H65.5" stroke="#000" stroke-width="1"/>
<path d="M62.0 488.75H65.5" stroke="#000" stroke-width="1"/>
<path d="M62.0 477.02H65.5" stroke="#000" stroke-width="1"/>
<path d="M62.0 465.29H65.5" stroke="#000" stroke-width="1"/>
<path d="M62.0 453.56H65.5" stroke="#000" stroke-width="1"/>
<path d="M62.0 441.83H65.5" stroke="#000" stroke-width="1"/>
<path d="M62.0 430.1H65.5" stroke="#000" stroke-width="1"/>
<rect x="68" y="544.5" width="8.4" height="2.9" fill="#7a91a1"/>
<path d="M72.2 547.4V549.6" stroke="#000" stroke-width="0.9"/>
<rect x="79.4" y="544.2" width="8.4" height="3.2" fill="#3cfa00"/>
<path d="M83.6 547.4V549.6" stroke="#000" stroke-width="0.9"/>
<rect x="91.3" y="545.3" width="8.7" height="2.1" fill="#0436ac"/>
<path d="M95.65 547.4V549.6" stroke="#000" stroke-width="0.9"/>
<path d="M106.6 508V503M104.4 503H108.8" stroke="#93a8b6" stroke-width="1.1" fill="none"/>
<rect x="102.4" y="508" width="8.4" height="39.4" fill="#7a91a1"/>
<path d="M106.6 547.4V549.6" stroke="#000" stroke-width="0.9"/>
<path d="M118.2 483V472M116.0 472H120.4" stroke="#4cf21a" stroke-width="1.1" fill="none"/>
<rect x="113.9" y="483" width="8.6" height="64.4" fill="#3cfa00"/>
<path d="M118.2 547.4V549.6" stroke="#000" stroke-width="0.9"/>
<path d="M130.1 517.5V515.5M127.9 515.5H132.3" stroke="#2450c0" stroke-width="1.1" fill="none"/>
<rect x="125.8" y="517.5" width="8.6" height="29.9" fill="#0436ac"/>
<path d="M130.1 547.4V549.6" stroke="#000" stroke-width="0.9"/>
<rect x="138.1" y="545" width="8.2" height="2.4" fill="#7a91a1"/>
<path d="M142.2 547.4V549.6" stroke="#000" stroke-width="0.9"/>
<rect x="149.5" y="545" width="8.6" height="2.4" fill="#3cfa00"/>
<path d="M153.8 547.4V549.6" stroke="#000" stroke-width="0.9"/>
<rect x="161.9" y="544.3" width="8.7" height="3.1" fill="#0436ac"/>
<path d="M166.25 547.4V549.6" stroke="#000" stroke-width="0.9"/>
<path d="M177.39999999999998 523V520.5M175.2 520.5H179.6" stroke="#93a8b6" stroke-width="1.1" fill="none"/>
<rect x="173.1" y="523" width="8.6" height="24.4" fill="#7a91a1"/>
<path d="M177.39999999999998 547.4V549.6" stroke="#000" stroke-width="0.9"/>
<path d="M188.75 524.2V521.2M186.55 521.2H190.95" stroke="#4cf21a" stroke-width="1.1" fill="none"/>
<rect x="184.5" y="524.2" width="8.5" height="23.2" fill="#3cfa00"/>
<path d="M188.75 547.4V549.6" stroke="#000" stroke-width="0.9"/>
<path d="M200.85000000000002 510V505.8M198.65 505.8H203.05" stroke="#2450c0" stroke-width="1.1" fill="none"/>
<rect x="196.3" y="510" width="9.1" height="37.4" fill="#0436ac"/>
<path d="M200.85000000000002 547.4V549.6" stroke="#000" stroke-width="0.9"/>
<text x="59.8" y="550.4" font-size="8.2" text-anchor="end" textLength="3.8" lengthAdjust="spacingAndGlyphs">0</text>
<text x="33.4" y="538.67" font-size="8.2" textLength="10.2" lengthAdjust="spacingAndGlyphs">2.0</text>
<text x="43.7" y="535.97" font-size="4.6" textLength="2" lengthAdjust="spacingAndGlyphs">×</text>
<text x="49.2" y="538.67" font-size="8.2" textLength="8.6" lengthAdjust="spacingAndGlyphs">10</text>
<text x="57.9" y="535.47" font-size="3.8" textLength="1.9" lengthAdjust="spacingAndGlyphs">6</text>
<text x="33.4" y="526.94" font-size="8.2" textLength="10.2" lengthAdjust="spacingAndGlyphs">4.0</text>
<text x="43.7" y="524.24" font-size="4.6" textLength="2" lengthAdjust="spacingAndGlyphs">×</text>
<text x="49.2" y="526.94" font-size="8.2" textLength="8.6" lengthAdjust="spacingAndGlyphs">10</text>
<text x="57.9" y="523.74" font-size="3.8" textLength="1.9" lengthAdjust="spacingAndGlyphs">6</text>
<text x="33.4" y="515.21" font-size="8.2" textLength="10.2" lengthAdjust="spacingAndGlyphs">6.0</text>
<text x="43.7" y="512.51" font-size="4.6" textLength="2" lengthAdjust="spacingAndGlyphs">×</text>
<text x="49.2" y="515.21" font-size="8.2" textLength="8.6" lengthAdjust="spacingAndGlyphs">10</text>
<text x="57.9" y="512.01" font-size="3.8" textLength="1.9" lengthAdjust="spacingAndGlyphs">6</text>
<text x="33.4" y="503.48" font-size="8.2" textLength="10.2" lengthAdjust="spacingAndGlyphs">8.0</text>
<text x="43.7" y="500.78" font-size="4.6" textLength="2" lengthAdjust="spacingAndGlyphs">×</text>
<text x="49.2" y="503.48" font-size="8.2" textLength="8.6" lengthAdjust="spacingAndGlyphs">10</text>
<text x="57.9" y="500.28" font-size="3.8" textLength="1.9" lengthAdjust="spacingAndGlyphs">6</text>
<text x="33.4" y="491.75" font-size="8.2" textLength="10.2" lengthAdjust="spacingAndGlyphs">1.0</text>
<text x="43.7" y="489.05" font-size="4.6" textLength="2" lengthAdjust="spacingAndGlyphs">×</text>
<text x="49.2" y="491.75" font-size="8.2" textLength="8.6" lengthAdjust="spacingAndGlyphs">10</text>
<text x="57.9" y="488.55" font-size="3.8" textLength="1.9" lengthAdjust="spacingAndGlyphs">7</text>
<text x="33.4" y="480.02" font-size="8.2" textLength="10.2" lengthAdjust="spacingAndGlyphs">1.2</text>
<text x="43.7" y="477.32" font-size="4.6" textLength="2" lengthAdjust="spacingAndGlyphs">×</text>
<text x="49.2" y="480.02" font-size="8.2" textLength="8.6" lengthAdjust="spacingAndGlyphs">10</text>
<text x="57.9" y="476.82" font-size="3.8" textLength="1.9" lengthAdjust="spacingAndGlyphs">7</text>
<text x="33.4" y="468.29" font-size="8.2" textLength="10.2" lengthAdjust="spacingAndGlyphs">1.4</text>
<text x="43.7" y="465.59" font-size="4.6" textLength="2" lengthAdjust="spacingAndGlyphs">×</text>
<text x="49.2" y="468.29" font-size="8.2" textLength="8.6" lengthAdjust="spacingAndGlyphs">10</text>
<text x="57.9" y="465.09" font-size="3.8" textLength="1.9" lengthAdjust="spacingAndGlyphs">7</text>
<text x="33.4" y="456.56" font-size="8.2" textLength="10.2" lengthAdjust="spacingAndGlyphs">1.6</text>
<text x="43.7" y="453.86" font-size="4.6" textLength="2" lengthAdjust="spacingAndGlyphs">×</text>
<text x="49.2" y="456.56" font-size="8.2" textLength="8.6" lengthAdjust="spacingAndGlyphs">10</text>
<text x="57.9" y="453.36" font-size="3.8" textLength="1.9" lengthAdjust="spacingAndGlyphs">7</text>
<text x="33.4" y="444.83" font-size="8.2" textLength="10.2" lengthAdjust="spacingAndGlyphs">1.8</text>
<text x="43.7" y="442.13" font-size="4.6" textLength="2" lengthAdjust="spacingAndGlyphs">×</text>
<text x="49.2" y="444.83" font-size="8.2" textLength="8.6" lengthAdjust="spacingAndGlyphs">10</text>
<text x="57.9" y="441.63" font-size="3.8" textLength="1.9" lengthAdjust="spacingAndGlyphs">7</text>
<text x="33.4" y="433.1" font-size="8.2" textLength="10.2" lengthAdjust="spacingAndGlyphs">2.0</text>
<text x="43.7" y="430.4" font-size="4.6" textLength="2" lengthAdjust="spacingAndGlyphs">×</text>
<text x="49.2" y="433.1" font-size="8.2" textLength="8.6" lengthAdjust="spacingAndGlyphs">10</text>
<text x="57.9" y="429.9" font-size="3.8" textLength="1.9" lengthAdjust="spacingAndGlyphs">7</text>
<text class="c" transform="translate(16.1,482.1) rotate(-90)" font-size="8.5" text-anchor="middle" textLength="72.8" lengthAdjust="spacingAndGlyphs">Cell output from 5000</text>
<text class="c" transform="translate(27.2,481.5) rotate(-90)" font-size="8.5" text-anchor="middle" textLength="35.3" lengthAdjust="spacingAndGlyphs">GFP+ cells</text>
<rect x="70.5" y="430.5" width="5.25" height="5.3" fill="#7a91a1"/>
<text x="78.9" y="435.4" font-size="6.6" textLength="46.3" lengthAdjust="spacingAndGlyphs" fill="#93a8b8">pMIRH-empty</text>
<rect x="70.5" y="438.6" width="5.25" height="5.3" fill="#3cfa00"/>
<text x="78.9" y="443.5" font-size="6.6" textLength="42.5" lengthAdjust="spacingAndGlyphs" fill="#4fe620">pMIRH-130b</text>
<rect x="70.5" y="446.3" width="5.25" height="5.3" fill="#0436ac"/>
<text x="78.9" y="451.2" font-size="6.6" textLength="41.4" lengthAdjust="spacingAndGlyphs" fill="#1f4fc4">pMIRH-128a</text>
<path d="M100.8 547.4V571.2" stroke="#000" stroke-width="0.9"/>
<path d="M136.5 547.4V593.6" stroke="#000" stroke-width="0.9"/>
<path d="M171.5 547.4V571.2" stroke="#000" stroke-width="0.9"/>
<text x="71.0" y="558.3" font-size="7.8" textLength="22.8" lengthAdjust="spacingAndGlyphs" class="c">Mll-AF4-</text>
<text x="68.3" y="567.7" font-size="7.8" textLength="27.7" lengthAdjust="spacingAndGlyphs" class="c">VEC-Cre+</text>
<text x="105.60000000000001" y="558.3" font-size="7.8" textLength="26.7" lengthAdjust="spacingAndGlyphs" class="c">Mll-AF4+</text>
<text x="105.5" y="567.7" font-size="7.8" textLength="26.8" lengthAdjust="spacingAndGlyphs" class="c">VEC-Cre+</text>
<text x="142.79999999999998" y="558.3" font-size="7.8" textLength="23.7" lengthAdjust="spacingAndGlyphs" class="c">Mll-AF4-</text>
<text x="140.5" y="567.7" font-size="7.8" textLength="27.5" lengthAdjust="spacingAndGlyphs" class="c">VEC-Cre+</text>
<text x="177.7" y="558.3" font-size="7.8" textLength="26.4" lengthAdjust="spacingAndGlyphs" class="c">Mll-AF4+</text>
<text x="177.39999999999998" y="567.7" font-size="7.8" textLength="26.7" lengthAdjust="spacingAndGlyphs" class="c">VEC-Cre+</text>
<rect x="76.7" y="579.8" width="48.6" height="12.4" fill="#fff" stroke="#000" stroke-width="0.9"/>
<rect x="146.3" y="579.8" width="51.4" height="12.4" fill="#fff" stroke="#000" stroke-width="0.9"/>
<text x="80.5" y="588.8" font-size="7.9" textLength="41.0" lengthAdjust="spacingAndGlyphs" class="c">Myeloid CFU-C</text>
<text x="149.7" y="588.8" font-size="7.9" textLength="45.5" lengthAdjust="spacingAndGlyphs" class="c">Lymphoid CFU-C</text>
<path d="M72.4 536.6V534.6H95.4V536.6" fill="none" stroke="#000" stroke-width="1.1"/>
<text x="85.1" y="534.62" font-size="7.6" text-anchor="middle" font-weight="bold">**</text>
<path d="M84.5 542.4V540.8H95.4V542.4" fill="none" stroke="#000" stroke-width="1.1"/>
<text x="90.2" y="540.72" font-size="7.6" text-anchor="middle" font-weight="bold">*</text>
<path d="M105.2 470.2V468.2H116.2V470.2" fill="none" stroke="#000" stroke-width="1.1"/>
<text x="111.1" y="468.62" font-size="7.6" text-anchor="middle" font-weight="bold">***</text>
<path d="M119.2 470.2V468.2H130.5V470.2" fill="none" stroke="#000" stroke-width="1.1"/>
<text x="125.6" y="468.62" font-size="7.6" text-anchor="middle" font-weight="bold">***</text>
<path d="M177.3 498.3V496.3H201.6V498.3" fill="none" stroke="#000" stroke-width="1.1"/>
<text x="189.3" y="496.82" font-size="7.6" text-anchor="middle" font-weight="bold">*</text>
<path d="M189.8 504.1V502.5H201.6V504.1" fill="none" stroke="#000" stroke-width="1.1"/>
<text x="195.8" y="503.62" font-size="7.6" text-anchor="middle" font-weight="bold">*</text>
</svg>
</body></html>
